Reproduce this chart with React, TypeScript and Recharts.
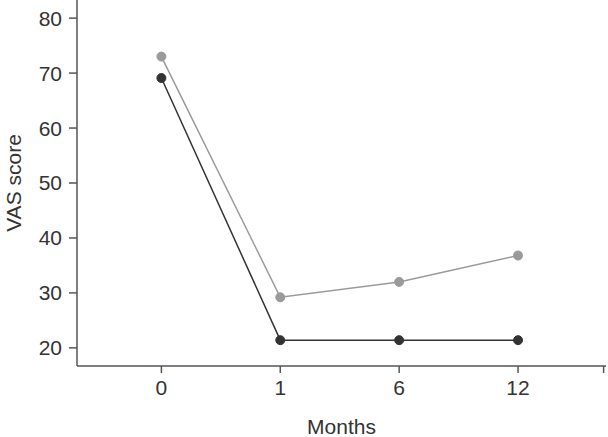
import { CartesianGrid, Line, LineChart, XAxis, YAxis } from "recharts";

// time points shown on the x axis
const months = ["0", "1", "6", "12"];
// VAS score per group
const groupA = [73, 29.2, 32, 36.8];
const groupB = [69.1, 21.4, 21.4, 21.4];
const yTicks = [20, 30, 40, 50, 60, 70, 80];

const X_END = 3.72;

const data = months.map((m, i) => ({ idx: i, month: m, a: groupA[i], b: groupB[i] }));

const font = "'Liberation Sans', Arial, sans-serif";
const axisColor = "#555";
const textColor = "#333";
const fs = 21;

export default function App() {
  return (
    <div style={{ position: "absolute", left: 0, top: 0, width: 608, height: 437, background: "#fff" }}>
      <LineChart
        width={608}
        height={437}
        data={data}
        margin={{ top: 0, right: 2, bottom: 0, left: 0 }}
        style={{ fontFamily: font, fontSize: fs }}
      >
        <CartesianGrid stroke="none" />
        <XAxis
          dataKey="idx"
          type="number"
          domain={[-0.71, 3.74]}
          ticks={[0, 1, 2, 3, X_END]}
          interval={0}
          tickFormatter={(v: number) => months[v] ?? ""}
          allowDataOverflow
          height={71}
          stroke={axisColor}
          strokeWidth={1.5}
          tickSize={7}
          tickMargin={7}
          fontSize={fs}
          tick={{ fill: textColor, fontSize: fs }}
          label={{ value: "Months", position: "insideBottom", offset: 3, fill: textColor, fontSize: fs }}
        />
        <YAxis
          type="number"
          domain={[16.7, 83.3]}
          ticks={yTicks}
          interval={0}
          allowDataOverflow
          width={77}
          stroke={axisColor}
          strokeWidth={1.5}
          tickSize={8}
          tickMargin={7}
          fontSize={fs}
          tick={{ fill: textColor, fontSize: fs }}
          label={{
            content: () => (
              <text
                x={0}
                y={0}
                transform="translate(21,183) rotate(-90)"
                textAnchor="middle"
                fill={textColor}
                fontSize={fs}
                fontFamily={font}
              >
                VAS score
              </text>
            ),
          }}
        />
        <Line
          dataKey="a"
          stroke="#9a9a9a"
          strokeWidth={1.5}
          dot={{ r: 4.5, fill: "#9a9a9a", stroke: "#9a9a9a", strokeWidth: 1 }}
          isAnimationActive={false}
        />
        <Line
          dataKey="b"
          stroke="#333"
          strokeWidth={1.5}
          dot={{ r: 4.5, fill: "#333", stroke: "#333", strokeWidth: 1 }}
          isAnimationActive={false}
        />
      </LineChart>
    </div>
  );
}
